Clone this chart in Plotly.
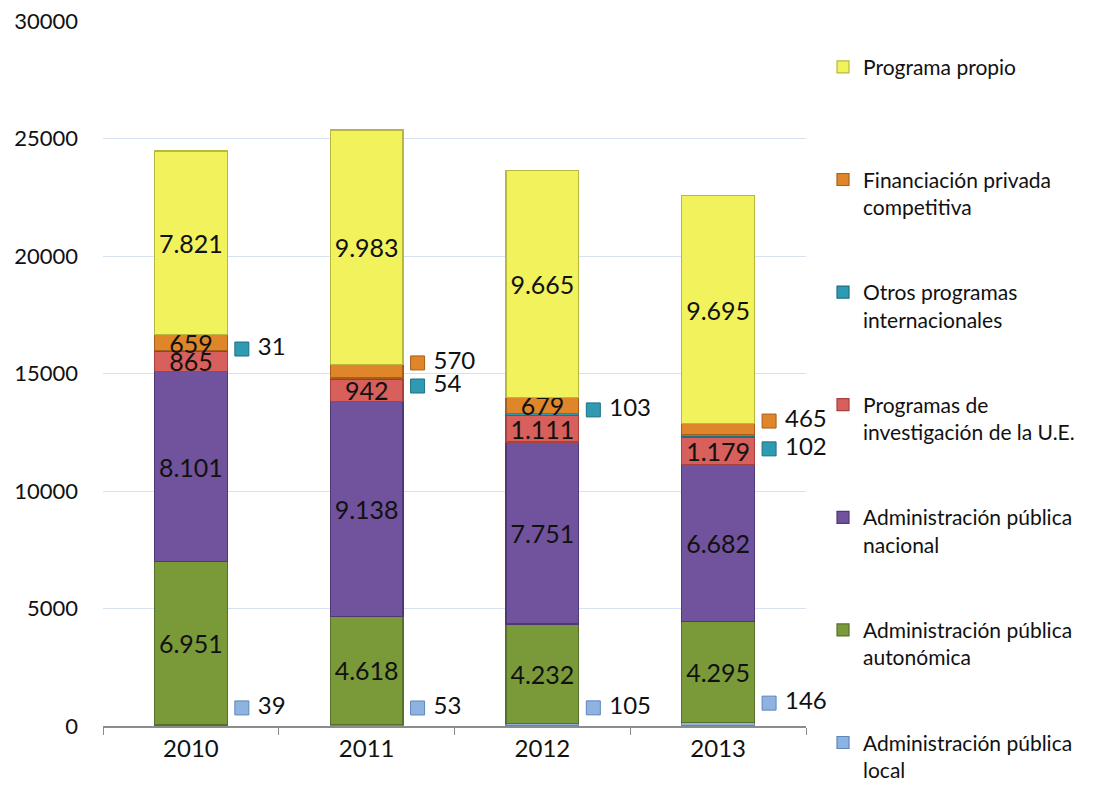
import plotly.graph_objects as go

years = ["2010", "2011", "2012", "2013"]
series_names = [
    "Administración pública<br>local",
    "Administración pública<br>autonómica",
    "Administración pública<br>nacional",
    "Programas de<br>investigación de la U.E.",
    "Otros programas<br>internacionales",
    "Financiación privada<br>competitiva",
    "Programa propio<br> ",
]
local = [39, 53, 105, 146]
autonomica = [6951, 4618, 4232, 4295]
nacional = [8101, 9138, 7751, 6682]
ue = [865, 942, 1111, 1179]
otros_int = [31, 54, 103, 102]
privada = [659, 570, 679, 465]
propio = [7821, 9983, 9665, 9695]

series_values = [local, autonomica, nacional, ue, otros_int, privada, propio]
colors = ["#8db3e2", "#7a9a3a", "#71529c", "#d75f5c", "#2f9bb3", "#e0862a", "#f2f25c"]
edges = ["#5f86b8", "#55702a", "#4f3878", "#a8403e", "#1f6f82", "#a85e18", "#b8b840"]

# which points show their label inside the bar (others are drawn beside the bar)
inside_shown = [
    [False] * 4,
    [True] * 4,
    [True] * 4,
    [True] * 4,
    [False] * 4,
    [True, False, True, False],
    [True] * 4,
]
# vertical offsets (data units) of the outside labels, relative to segment middle
outside_offsets = {
    0: [750, 740, 720, 900],
    4: [70, -310, 200, -560],
    5: [0, 360, 0, 340],
}

LABEL_FONT = "Lato"

def fmt(v):
    return f"{v:,}".replace(",", ".")

fig = go.Figure()
n = len(series_names)
for k, (name, vals) in enumerate(zip(series_names, series_values)):
    texts = [fmt(v) if inside_shown[k][i] else "" for i, v in enumerate(vals)]
    fig.add_trace(go.Bar(
        x=years, y=vals, name=name, legendgroup=f"g{k}", legendrank=100 + (n - k),
        marker=dict(color=colors[k], line=dict(color=edges[k], width=1.2)),
        text=texts, textposition="inside", insidetextanchor="middle",
        textangle=0, constraintext="none",
        insidetextfont=dict(family=LABEL_FONT, size=25, color="#111111"),
        hoverinfo="y",
    ))

# outside labels with small square keys
for k, offs in outside_offsets.items():
    xs, ys, ts = [], [], []
    for i in range(len(years)):
        if inside_shown[k][i]:
            continue
        base = sum(series_values[j][i] for j in range(k))
        mid = base + series_values[k][i] / 2
        xs.append(i + 0.29)
        ys.append(mid + offs[i])
        ts.append(" " + fmt(series_values[k][i]))
    fig.add_trace(go.Scatter(
        x=xs, y=ys, text=ts, mode="markers+text", textposition="middle right",
        marker=dict(symbol="square", size=14, color=colors[k],
                    line=dict(color=edges[k], width=1)),
        textfont=dict(family=LABEL_FONT, size=24, color="#111111"),
        xaxis="x2", showlegend=False, hoverinfo="skip", cliponaxis=False,
    ))

# the page body adds an 8px offset; size the figure to fit the window
fig.update_layout(
    barmode="stack",
    bargap=0.585,
    width=1109, height=781,
    margin=dict(l=95, r=311, t=13, b=63, autoexpand=False),
    plot_bgcolor="white", paper_bgcolor="white",
    font=dict(family=LABEL_FONT, size=24, color="#111111"),
    xaxis=dict(type="category", tickson="boundaries", ticks="outside", ticklen=7,
               tickcolor="#8c8c8c", showline=True, linecolor="#8c8c8c", linewidth=1.5,
               showgrid=False, tickfont=dict(size=24), automargin=False),
    xaxis2=dict(overlaying="x", range=[-0.5, 3.5], visible=False),
    yaxis=dict(range=[0, 30000], dtick=5000, tickformat="d", showgrid=True,
               gridcolor="#d6e2f0", gridwidth=1.3, zeroline=False, showline=False,
               ticks="", tickfont=dict(size=22), ticklabelstandoff=24, automargin=False,
               ticklabeloverflow="allow"),
    legend=dict(xref="container", yref="container", x=0.7349, y=0.9504,
                xanchor="left", yanchor="top", traceorder="grouped",
                valign="top", tracegroupgap=55, bgcolor="rgba(0,0,0,0)",
                maxheight=781,
                font=dict(family=LABEL_FONT, size=21, color="#111111")),
    showlegend=True,
)

fig.write_html("out.html")
